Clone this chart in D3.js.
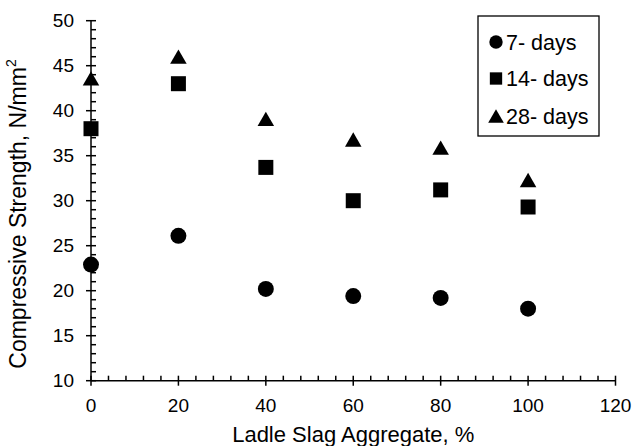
<!DOCTYPE html>
<html>
<head>
<meta charset="utf-8">
<script src="https://cdn.jsdelivr.net/npm/d3@7"></script>
<style>
  html, body { margin: 0; padding: 0; background: #fff; }
  svg { display: block; font-family: "Liberation Sans", Arial, sans-serif; }
</style>
</head>
<body>
<svg id="chart" width="632" height="446"></svg>
<script>
// Ladle slag replacement levels (%)
const slagLevels = [0, 20, 40, 60, 80, 100];
// Compressive strength (N/mm²) at each curing age
const days7  = [22.9, 26.1, 20.2, 19.4, 19.2, 18.0];
const days14 = [38.0, 43.0, 33.7, 30.0, 31.2, 29.3];
const days28 = [43.6, 46.0, 39.1, 36.8, 35.9, 32.3];
const seriesNames = ["7- days", "14- days", "28- days"];
const xTicks = [0, 20, 40, 60, 80, 100, 120];
const yTicks = [10, 15, 20, 25, 30, 35, 40, 45, 50];

const svg = d3.select("#chart");
const x = d3.scaleLinear().domain([0, 120]).range([91, 615.5]);
const y = d3.scaleLinear().domain([10, 50]).range([380.7, 20.7]);

// Triangle centred on its bounding box
const triBox = {
  draw(ctx, size) {
    const w = Math.sqrt(size * 4 / Math.sqrt(3));
    const h = w * Math.sqrt(3) / 2;
    ctx.moveTo(0, -h / 2);
    ctx.lineTo(w / 2, h / 2);
    ctx.lineTo(-w / 2, h / 2);
    ctx.closePath();
  }
};

const series = [
  { name: seriesNames[0], values: days7,  type: d3.symbolCircle, size: 200, legendSize: 140 },
  { name: seriesNames[1], values: days14, type: d3.symbolSquare, size: 225, legendSize: 152 },
  { name: seriesNames[2], values: days28, type: triBox,          size: 118, legendSize: 106 }
];

// Axes
const axisG = svg.append("g").attr("stroke", "#000").attr("stroke-width", 1.5);

// y axis line, minor (inward) and major (crossing) ticks
axisG.append("line").attr("x1", x(0)).attr("x2", x(0)).attr("y1", y(50)).attr("y2", y(10));
d3.range(10, 51, 1).forEach(v => {
  const major = v % 5 === 0;
  axisG.append("line")
    .attr("x1", major ? x(0) - 5 : x(0)).attr("x2", x(0) + 5)
    .attr("y1", y(v)).attr("y2", y(v));
});
// x axis line and ticks
axisG.append("line").attr("x1", x(0)).attr("x2", x(120)).attr("y1", y(10)).attr("y2", y(10));
d3.range(0, 121, 4).forEach(v => {
  const major = v % 20 === 0;
  axisG.append("line")
    .attr("x1", x(v)).attr("x2", x(v))
    .attr("y1", y(10) - 5).attr("y2", major ? y(10) + 5 : y(10));
});

// Tick labels
svg.append("g").selectAll("text").data(yTicks).join("text")
  .attr("x", x(0) - 17).attr("y", d => y(d)).attr("dy", "0.35em")
  .attr("text-anchor", "end").attr("font-size", 19).attr("fill", "#000")
  .text(d => d);
svg.append("g").selectAll("text").data(xTicks).join("text")
  .attr("x", d => x(d)).attr("y", 412)
  .attr("text-anchor", "middle").attr("font-size", 19).attr("fill", "#000")
  .text(d => d);

// Axis titles
svg.append("text")
  .attr("x", x(60)).attr("y", 442)
  .attr("text-anchor", "middle").attr("font-size", 22).attr("fill", "#000")
  .text("Ladle Slag Aggregate, %");
const yt = svg.append("text")
  .attr("transform", "translate(26, 214) rotate(-90)")
  .attr("text-anchor", "middle").attr("font-size", 23).attr("fill", "#000");
yt.append("tspan").text("Compressive Strength, N/mm");
yt.append("tspan").attr("font-size", 14).attr("dy", -10).text("2");

// Data markers
series.forEach(s => {
  svg.append("g").selectAll("path").data(s.values).join("path")
    .attr("transform", (d, i) => `translate(${x(slagLevels[i])},${y(d)})`)
    .attr("d", d3.symbol().type(s.type).size(s.size)())
    .attr("fill", "#000");
});

// Legend
const lg = svg.append("g");
lg.append("rect").attr("x", 478).attr("y", 16).attr("width", 121).attr("height", 120)
  .attr("fill", "#fff").attr("stroke", "#000").attr("stroke-width", 1.3);
const rowsY = [42, 78.5, 116];
series.forEach((s, i) => {
  lg.append("path")
    .attr("transform", `translate(496,${rowsY[i]})`)
    .attr("d", d3.symbol().type(s.type).size(s.legendSize)())
    .attr("fill", "#000");
  lg.append("text").attr("x", 506).attr("y", rowsY[i]).attr("dy", "0.36em")
    .attr("font-size", 21.5).attr("fill", "#000").text(s.name);
});
</script>
</body>
</html>
